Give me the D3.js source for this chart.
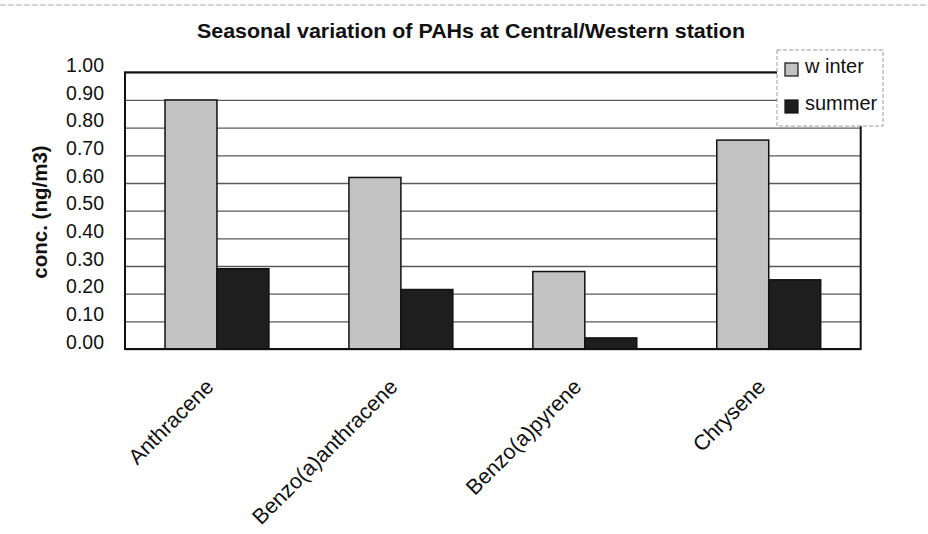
<!DOCTYPE html>
<html>
<head>
<meta charset="utf-8">
<script src="https://cdn.jsdelivr.net/npm/d3@7/dist/d3.min.js"></script>
<style>
  html, body { margin: 0; padding: 0; background: #ffffff; }
  svg { display: block; font-family: Arial, "Liberation Sans", sans-serif; }
</style>
</head>
<body>
<svg id="chart" width="928" height="534"></svg>
<script>
const categories = ["Anthracene", "Benzo(a)anthracene", "Benzo(a)pyrene", "Chrysene"];
const seriesNames = ["winter", "summer"];
const legendLabels = ["w inter", "summer"];
const winterValues = [0.90, 0.62, 0.28, 0.755];
const summerValues = [0.29, 0.215, 0.04, 0.25];
const yTicks = [0, 0.1, 0.2, 0.3, 0.4, 0.5, 0.6, 0.7, 0.8, 0.9, 1.0];
const titleText = "Seasonal variation of PAHs at Central/Western station";
const yAxisTitle = "conc. (ng/m3)";

const colors = { winter: "#c2c2c2", summer: "#1e1e1e" };
const valuesBySeries = { winter: winterValues, summer: summerValues };

const svg = d3.select("#chart");
const margin = { left: 125, right: 928 - 860.7, top: 72.3, bottom: 534 - 349 };
const plotW = 928 - margin.left - margin.right;
const plotH = 534 - margin.top - margin.bottom;

// faint header rule of the scanned page
svg.append("line")
  .attr("x1", 0).attr("x2", 928).attr("y1", 5).attr("y2", 5)
  .attr("stroke", "#aaa").attr("stroke-width", 1).attr("stroke-dasharray", "6,2");

const x0 = d3.scaleBand().domain(categories).range([margin.left, margin.left + plotW]).padding(0);
const x1 = d3.scaleBand().domain(seriesNames).range([0, x0.bandwidth()]).paddingInner(0).paddingOuter(0.77);
const y = d3.scaleLinear().domain([0, 1]).range([margin.top + plotH, margin.top]);

// gridlines
const grid = svg.append("g")
  .attr("transform", `translate(${margin.left},0)`)
  .call(d3.axisLeft(y).tickValues(yTicks).tickSize(-plotW).tickFormat(""));
grid.select(".domain").remove();
grid.selectAll(".tick line").attr("stroke", "#5a5a5a").attr("stroke-width", 1.3);

// bars
const groups = svg.append("g").selectAll("g")
  .data(categories)
  .join("g")
  .attr("transform", d => `translate(${x0(d)},0)`);

groups.selectAll("rect")
  .data((d, i) => seriesNames.map(s => ({ s, v: valuesBySeries[s][i] })))
  .join("rect")
  .attr("x", d => x1(d.s))
  .attr("width", x1.bandwidth())
  .attr("y", d => y(d.v))
  .attr("height", d => y(0) - y(d.v))
  .attr("fill", d => colors[d.s])
  .attr("stroke", "#111")
  .attr("stroke-width", 1.5);

// plot frame
svg.append("rect")
  .attr("x", margin.left).attr("y", margin.top)
  .attr("width", plotW).attr("height", plotH)
  .attr("fill", "none").attr("stroke", "#111").attr("stroke-width", 2);

// y axis labels
const yAxis = svg.append("g")
  .attr("transform", `translate(${margin.left},0)`)
  .call(d3.axisLeft(y).tickValues(yTicks).tickSize(0).tickPadding(21).tickFormat(d3.format(".2f")));
yAxis.select(".domain").remove();
yAxis.selectAll("text")
  .attr("font-size", 19.5)
  .attr("font-family", "Arial, 'Liberation Sans', sans-serif")
  .attr("fill", "#111")
  .attr("dy", "-0.05em");

// x axis labels
const xAxis = svg.append("g")
  .attr("transform", `translate(0,${margin.top + plotH})`)
  .call(d3.axisBottom(x0).tickSize(0).tickPadding(0));
xAxis.select(".domain").remove();
xAxis.selectAll("text")
  .attr("font-size", 21.5)
  .attr("font-family", "Arial, 'Liberation Sans', sans-serif")
  .attr("fill", "#111")
  .attr("text-anchor", "end")
  .attr("dy", 0)
  .attr("y", 0)
  .attr("transform", "translate(-2,39) rotate(-45)");

// y axis title
svg.append("text")
  .attr("transform", "translate(47,212) rotate(-90)")
  .attr("text-anchor", "middle")
  .attr("font-size", 20.5)
  .attr("font-weight", "bold")
  .attr("fill", "#111")
  .text(yAxisTitle);

// title
svg.append("text")
  .attr("x", 471).attr("y", 38)
  .attr("text-anchor", "middle")
  .attr("font-size", 21)
  .attr("font-weight", "bold")
  .attr("fill", "#111")
  .attr("textLength", 548)
  .attr("lengthAdjust", "spacingAndGlyphs")
  .text(titleText);

// legend
const legend = svg.append("g");
legend.append("rect")
  .attr("x", 777).attr("y", 50).attr("width", 106).attr("height", 76)
  .attr("fill", "#fff").attr("stroke", "#9a9a9a").attr("stroke-width", 1)
  .attr("stroke-dasharray", "4,2");
const li = legend.selectAll("g.item")
  .data(seriesNames)
  .join("g")
  .attr("class", "item")
  .attr("transform", (d, i) => `translate(785,${63 + i * 37})`);
li.append("rect")
  .attr("width", 13).attr("height", 13)
  .attr("fill", d => colors[d])
  .attr("stroke", "#111").attr("stroke-width", 1.2);
li.append("text")
  .attr("x", 20).attr("y", 10)
  .attr("font-size", 20)
  .attr("fill", "#111")
  .text((d, i) => legendLabels[i]);
</script>
</body>
</html>
